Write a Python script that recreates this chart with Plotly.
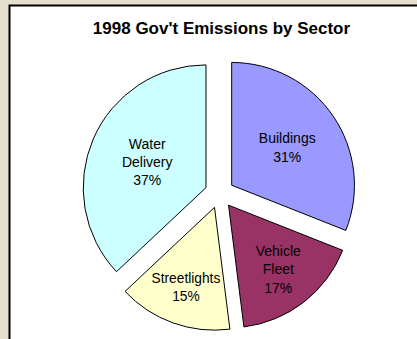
import plotly.graph_objects as go

labels = ["Buildings", "Vehicle Fleet", "Streetlights", "Water Delivery"]
display_labels = ["Buildings", "Vehicle<br>Fleet", "Streetlights", "Water<br>Delivery"]
values = [31, 17, 15, 37]
colors = ["#9999FF", "#993366", "#FFFFCC", "#CCFFFF"]
title_text = "1998 Gov't Emissions by Sector"

W, H = 417, 339
ml, mr, mt, mb = 82, 60, 56, 8
pw = W - ml - mr
ph = H - mt - mb

def px_x(p):
    return (p - ml) / pw

def px_y(p):
    return (H - mb - p) / ph

fig = go.Figure(go.Pie(
    labels=labels,
    values=values,
    text=display_labels,
    texttemplate="%{text}<br>%{percent:.0%}",
    textposition="inside",
    insidetextorientation="horizontal",
    textfont=dict(family="Liberation Sans, Arial, sans-serif", size=14, color="black"),
    marker=dict(colors=colors, line=dict(color="black", width=1)),
    pull=[0.12] * len(values),
    sort=False,
    direction="clockwise",
    rotation=0,
    hoverinfo="skip",
    showlegend=False,
))

fig.add_shape(type="rect", xref="paper", yref="paper",
              x0=px_x(9.5), x1=1.5, y0=-0.3, y1=px_y(5.5),
              fillcolor="white", line=dict(color="black", width=2), layer="below")

fig.update_layout(
    width=W, height=H,
    margin=dict(l=ml, r=mr, t=mt, b=mb),
    paper_bgcolor="#E6DECF",
    plot_bgcolor="white",
    title=dict(text="<b>" + title_text + "</b>", x=221.5 / W, xref="container", xanchor="center",
               y=1 - 28 / H, yref="container", yanchor="middle",
               font=dict(family="Liberation Sans, Arial, sans-serif", size=17, color="black")),
)

fig.write_html("out.html")
